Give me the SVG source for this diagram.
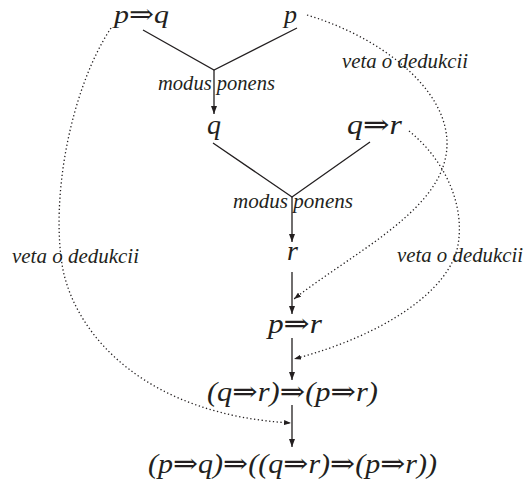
<svg xmlns="http://www.w3.org/2000/svg" width="524" height="481" viewBox="0 0 524 481">
<style>
.f{font-family:"Liberation Serif","Times New Roman",serif;font-style:italic;font-size:28px;fill:#231f20}
.t{font-size:26px}
.a{font-family:"DejaVu Serif","Liberation Serif",serif;font-style:normal}
.l{font-family:"Liberation Serif","Times New Roman",serif;font-style:italic;font-size:20px;fill:#231f20}
.s{fill:none;stroke:#231f20;stroke-width:1.3}
.d{fill:none;stroke:#231f20;stroke-width:1.3;stroke-dasharray:1.3 2.5}
</style>
<defs>
<marker id="ah" markerWidth="8" markerHeight="6" refX="8" refY="3" orient="auto" markerUnits="userSpaceOnUse">
<path d="M0,0 L8,3 L0,6 Z" fill="#231f20"/>
</marker>
<marker id="dh" markerWidth="7" markerHeight="5" refX="7" refY="2.5" orient="auto" markerUnits="userSpaceOnUse">
<path d="M0,0 L7,2.5 L0,5 Z" fill="#231f20"/>
</marker>
</defs>
<g id="connectors">
<path class="s" d="M143,30 L214,70 L297,28"/>
<path class="s" d="M214,70 L214,114" marker-end="url(#ah)"/>
<path class="s" d="M213,143 L292,197 L370,142"/>
<path class="s" d="M292,197 L292,242" marker-end="url(#ah)"/>
<path class="s" d="M292,272 L292,314" marker-end="url(#ah)"/>
<path class="s" d="M292,338 L292,380" marker-end="url(#ah)"/>
<path class="s" d="M292,405 L292,447" marker-end="url(#ah)"/>
<path class="d" d="M307,15 C390,40 460,100 445,160 C432,215 350,255 294,299" marker-end="url(#dh)"/>
<path class="d" d="M409,131 C445,160 465,205 458,245 C450,290 385,335 294,359" marker-end="url(#dh)"/>
<path class="d" d="M111,28 C70,90 50,200 63,270 C78,340 150,415 291,423" marker-end="url(#dh)"/>
</g>
<g id="n-pq"><text class="f t" x="114" y="23" textLength="55" lengthAdjust="spacingAndGlyphs">p<tspan class="a">⇒</tspan>q</text></g>
<g id="n-p"><text class="f t" x="284" y="23">p</text></g>
<g id="mp1"><text class="l" x="158" y="90" textLength="117" lengthAdjust="spacingAndGlyphs">modus ponens</text></g>
<g id="n-q"><text class="f" x="207" y="134">q</text></g>
<g id="n-qr"><text class="f" x="347" y="134" textLength="55" lengthAdjust="spacingAndGlyphs">q<tspan class="a">⇒</tspan>r</text></g>
<g id="mp2"><text class="l" x="233" y="208" textLength="120" lengthAdjust="spacingAndGlyphs">modus ponens</text></g>
<g id="n-r"><text class="f" x="287" y="260">r</text></g>
<g id="n-pr"><text class="f" x="268" y="333" textLength="54" lengthAdjust="spacingAndGlyphs">p<tspan class="a">⇒</tspan>r</text></g>
<g id="n-qrpr"><text class="f" x="207" y="401" textLength="171" lengthAdjust="spacingAndGlyphs">(q<tspan class="a">⇒</tspan>r)<tspan class="a">⇒</tspan>(p<tspan class="a">⇒</tspan>r)</text></g>
<g id="n-final"><text class="f" x="148" y="473" textLength="289" lengthAdjust="spacingAndGlyphs">(p<tspan class="a">⇒</tspan>q)<tspan class="a">⇒</tspan>((q<tspan class="a">⇒</tspan>r)<tspan class="a">⇒</tspan>(p<tspan class="a">⇒</tspan>r))</text></g>
<g id="vd1"><text class="l" x="342" y="68" textLength="126" lengthAdjust="spacingAndGlyphs">veta o dedukcii</text></g>
<g id="vd2"><text class="l" x="12" y="263" textLength="127" lengthAdjust="spacingAndGlyphs">veta o dedukcii</text></g>
<g id="vd3"><text class="l" x="397" y="262" textLength="126" lengthAdjust="spacingAndGlyphs">veta o dedukcii</text></g>
</svg>
